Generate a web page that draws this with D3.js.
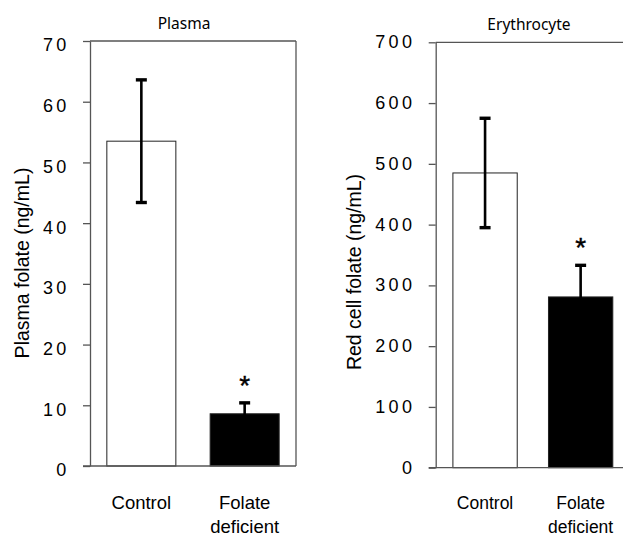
<!DOCTYPE html>
<html>
<head>
<meta charset="utf-8">
<script src="https://cdn.jsdelivr.net/npm/d3@7"></script>
<style>
  html, body { margin: 0; padding: 0; background: #fff; }
  svg { display: block; }
</style>
</head>
<body>
<svg id="chart" width="623" height="536"></svg>
<script>
// ---- Data ----
const categories = ["Control", "Folate deficient"];
const plasmaMeans = [53.5, 8.6];
const plasmaErrors = [10.1, 1.8];
const redCellMeans = [485, 281];
const redCellErrors = [90, 52];
const plasmaTicks = [0, 10, 20, 30, 40, 50, 60, 70];
const redCellTicks = [0, 100, 200, 300, 400, 500, 600, 700];
const barFills = ["#ffffff", "#000000"];
const significant = [false, true];

const svg = d3.select("#chart");
const labelFont = "'Liberation Sans', Arial, sans-serif";
const titleFont = "'Noto Sans', 'Open Sans', sans-serif";
const axisColor = "#555";

function panel(cfg) {
  const g = svg.append("g");
  const x = d3.scaleBand().domain(categories).range([cfg.left, cfg.right])
    .paddingInner(cfg.pi).paddingOuter(cfg.po);
  const y = d3.scaleLinear().domain([0, cfg.max]).range([cfg.bottom, cfg.top]);

  const rows = categories.map((c, i) => ({
    cat: c, mean: cfg.means[i], err: cfg.errs[i], fill: barFills[i], sig: significant[i]
  }));
  const cx = d => x(d.cat) + x.bandwidth() / 2;

  // frame
  g.append("line").attr("x1", cfg.left).attr("x2", cfg.frameRight)
    .attr("y1", cfg.top).attr("y2", cfg.top)
    .attr("stroke", axisColor).attr("stroke-width", 1.3);
  if (cfg.drawRightEdge) {
    g.append("line").attr("x1", cfg.frameRight).attr("x2", cfg.frameRight)
      .attr("y1", cfg.top).attr("y2", cfg.bottom)
      .attr("stroke", axisColor).attr("stroke-width", 1.3);
  }

  // bars
  g.selectAll("rect.bar").data(rows).join("rect")
    .attr("class", "bar")
    .attr("x", d => x(d.cat))
    .attr("width", x.bandwidth())
    .attr("y", d => y(d.mean))
    .attr("height", d => y(0) - y(d.mean))
    .attr("fill", d => d.fill)
    .attr("stroke", "#222").attr("stroke-width", 1);

  // error bars
  g.selectAll("line.ebv").data(rows).join("line")
    .attr("class", "ebv")
    .attr("x1", cx).attr("x2", cx)
    .attr("y1", d => y(d.mean - d.err))
    .attr("y2", d => y(d.mean + d.err))
    .attr("stroke", "#000").attr("stroke-width", 2.6);
  [1, -1].forEach(s => {
    g.selectAll("line.cap" + (s > 0 ? "u" : "d")).data(rows).join("line")
      .attr("class", "cap" + (s > 0 ? "u" : "d"))
      .attr("x1", d => cx(d) - 5.5)
      .attr("x2", d => cx(d) + 5.5)
      .attr("y1", d => y(d.mean + s * d.err))
      .attr("y2", d => y(d.mean + s * d.err))
      .attr("stroke", "#000").attr("stroke-width", 3.4);
  });

  // significance
  g.selectAll("text.sig").data(rows.filter(d => d.sig)).join("text")
    .attr("class", "sig")
    .attr("x", cx)
    .attr("y", d => y(d.mean + d.err) - 8)
    .attr("text-anchor", "middle")
    .attr("font-family", labelFont).attr("font-size", 28)
    .attr("stroke", "#000").attr("stroke-width", 0.4)
    .text("*");

  // y axis
  const yAxis = d3.axisLeft(y).tickValues(cfg.ticks).tickSize(7).tickSizeOuter(0)
    .tickFormat(d3.format("d"));
  const ya = g.append("g").attr("transform", `translate(${cfg.left},0)`).call(yAxis);
  ya.select(".domain").attr("stroke", axisColor).attr("stroke-width", 1.3);
  ya.selectAll(".tick line").attr("stroke", axisColor).attr("stroke-width", 1.3);
  ya.selectAll(".tick text")
    .attr("x", -20.5).attr("dy", cfg.tickDy)
    .attr("font-family", labelFont).attr("font-size", 18)
    .attr("letter-spacing", "3.3px")
    .attr("fill", "#000");

  // x baseline
  g.append("line").attr("x1", cfg.left - 7).attr("x2", cfg.baseRight)
    .attr("y1", cfg.bottom).attr("y2", cfg.bottom)
    .attr("stroke", axisColor).attr("stroke-width", 1.3);

  // x labels
  rows.forEach(d => {
    const words = d.cat.split(" ");
    const t = g.append("text")
      .attr("x", cx(d))
      .attr("y", 509)
      .attr("text-anchor", "middle")
      .attr("font-family", labelFont).attr("font-size", cfg.xLabelSize)
      .attr("fill", "#000");
    words.forEach((w, k) => {
      t.append("tspan").attr("x", cx(d))
        .attr("dy", k === 0 ? 0 : 24).text(w);
    });
  });

  // title
  g.append("text")
    .attr("x", cfg.titleX).attr("y", cfg.titleY)
    .attr("text-anchor", "middle")
    .attr("font-family", titleFont).attr("font-size", 15.5)
    .attr("fill", "#000")
    .text(cfg.title);

  // y title
  g.append("text")
    .attr("transform", `translate(${cfg.yLabelX},${cfg.yLabelY}) rotate(-90)`)
    .attr("text-anchor", "middle")
    .attr("font-family", labelFont).attr("font-size", 19.5)
    .attr("fill", "#000")
    .text(cfg.yLabel);
}

panel({
  left: 90, right: 296, top: 41, bottom: 466, max: 70,
  pi: 0.332, po: 0.163, tickDy: "0.55em", xLabelSize: 18.5,
  means: plasmaMeans, errs: plasmaErrors, ticks: plasmaTicks,
  frameRight: 296, drawRightEdge: true, baseRight: 296,
  title: "Plasma", titleX: 184, titleY: 29,
  yLabel: "Plasma folate (ng/mL)", yLabelX: 29, yLabelY: 263
});

panel({
  left: 435.7, right: 630, top: 42.3, bottom: 467.7, max: 700,
  pi: 0.327, po: 0.18, tickDy: "0.3em", xLabelSize: 17.5,
  means: redCellMeans, errs: redCellErrors, ticks: redCellTicks,
  frameRight: 623, drawRightEdge: false, baseRight: 623,
  title: "Erythrocyte", titleX: 529, titleY: 30,
  yLabel: "Red cell folate (ng/mL)", yLabelX: 361, yLabelY: 272
});
</script>
</body>
</html>
